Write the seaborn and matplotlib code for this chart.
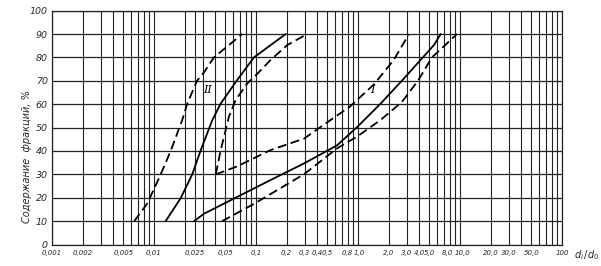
import numpy as np
import pandas as pd
import matplotlib
matplotlib.use("Agg")
import matplotlib.pyplot as plt
import matplotlib.transforms as mtransforms
from matplotlib.ticker import FixedLocator, FixedFormatter, NullFormatter
from matplotlib import font_manager
import seaborn as sns

# ---- data ----
# Group II
II_left_x = [0.0064, 0.0086, 0.0116, 0.0146, 0.0189, 0.0211, 0.0264, 0.0309, 0.0387, 0.0734]
II_left_y = [10, 17.6, 29.9, 40.1, 53.2, 60, 70, 73.6, 80, 90]
II_mid_x = [0.0130, 0.0183, 0.0237, 0.0287, 0.0373, 0.0451, 0.0656, 0.0955, 0.1955]
II_mid_y = [10, 19.9, 30, 40.3, 53.2, 60.3, 70.4, 80, 90]
II_right_x = [0.0403, 0.0451, 0.0543, 0.0632, 0.0822, 0.103, 0.139, 0.203, 0.318]
II_right_y = [30, 40.4, 54.7, 61.8, 68.9, 73, 78.9, 85.3, 90]
# Group I
I_upper_x = [0.0403, 0.0651, 0.139, 0.296, 0.431, 0.835, 1.435, 2.25, 3.16]
I_upper_y = [30, 33.4, 40.4, 45.3, 50.3, 59, 68.5, 79, 90]
I_mid_x = [0.0247, 0.0309, 0.0656, 0.139, 0.296, 0.627, 0.984, 1.67, 2.82, 5.56, 6.47]
I_mid_y = [10, 13.2, 20.4, 27.6, 34.7, 42.5, 50.3, 60.3, 71, 85.3, 90]
I_lower_x = [0.0464, 0.0955, 0.296, 0.627, 0.984, 1.67, 2.70, 3.87, 5.31, 9.35]
I_lower_y = [10, 17.4, 30.1, 41.2, 46.2, 53.3, 61, 70, 80, 90]

x_ticks = [0.001, 0.002, 0.005, 0.01, 0.025, 0.05, 0.1, 0.2, 0.3, 0.4, 0.5, 0.8,
           1, 2, 3, 4, 5, 8, 10, 20, 30, 50, 100]
x_tick_labels = ["0,001", "0,002", "0,005", "0,01", "0,025", "0,05", "0,1", "0,2",
                 "0,3", "0,4", "0,5", "0,8", "1,0", "2,0", "3,0", "4,0", "5,0",
                 "8,0", "10,0", "20,0", "30,0", "50,0", "100"]
y_ticks = [0, 10, 20, 30, 40, 50, 60, 70, 80, 90, 100]

sns.set_theme(style="white")
names = {f.name for f in font_manager.fontManager.ttflist}
narrow = "Liberation Sans Narrow" if "Liberation Sans Narrow" in names else "DejaVu Sans"
plt.rcParams['font.family'] = [narrow, 'DejaVu Sans']

fig = plt.figure(figsize=(6.01, 2.66), dpi=100)
ax = fig.add_axes([52/601, 1-244.6/266, (562-52)/601, (244.6-10.6)/266])

solid = dict(lw=1.3)
dashed = dict(lw=1.3, dashes=(5, 2.5))

for xs, ys, st in [(II_left_x, II_left_y, dashed), (II_mid_x, II_mid_y, solid),
                   (II_right_x, II_right_y, dashed), (I_upper_x, I_upper_y, dashed),
                   (I_mid_x, I_mid_y, solid), (I_lower_x, I_lower_y, dashed)]:
    df = pd.DataFrame({"x": xs, "y": ys})
    sns.lineplot(data=df, x="x", y="y", ax=ax, sort=False, estimator=None,
                 color="black", lw=st["lw"])
    if "dashes" in st:
        ax.lines[-1].set_dashes(st["dashes"])

ax.set_xscale("log")
ax.set_xlim(0.001, 100)
ax.set_ylim(0, 100)

grid_vals = []
for d in [0.001, 0.01, 0.1, 1, 10]:
    for m in range(1, 10):
        grid_vals.append(d * m)
grid_vals += [0.025, 100]
ax.xaxis.set_minor_locator(FixedLocator(grid_vals))
ax.xaxis.set_minor_formatter(NullFormatter())
ax.xaxis.set_major_locator(FixedLocator(x_ticks))
ax.xaxis.set_major_formatter(FixedFormatter(x_tick_labels))
ax.yaxis.set_major_locator(FixedLocator(y_ticks))
ax.grid(True, which="both", axis="x", color="#222222", lw=0.8)
ax.grid(True, which="major", axis="y", color="#222222", lw=0.9)
ax.tick_params(axis="x", which="both", length=0, pad=4)
ax.tick_params(axis="y", which="both", length=0, pad=3)
nudges = {"8,0": -2.5, "10,0": 2.5, "0,8": -1, "1,0": 1}
for lab in ax.get_xticklabels():
    lab.set_fontsize(5.0)
    lab.set_fontstyle("italic")
    dx = nudges.get(lab.get_text(), 0)
    if dx:
        lab.set_transform(lab.get_transform() +
                          mtransforms.ScaledTranslation(dx/100, 0, fig.dpi_scale_trans))
for lab in ax.get_yticklabels():
    lab.set_fontsize(6.8)
    lab.set_fontstyle("italic")
for sp in ax.spines.values():
    sp.set_color("#222222")
    sp.set_linewidth(0.9)
ax.set_xlabel("")
ax.set_ylabel("")

ax.text(0.0333, 66, "II", fontsize=8, fontstyle="italic", family="DejaVu Serif",
        ha="center", va="center", color="black")
ax.text(1.38, 66, "I", fontsize=8, fontstyle="italic", family="DejaVu Serif",
        ha="center", va="center", color="black")

fig.text(587/601, 1-255/266, r"$d_i\,/d_0$", fontsize=7, ha="center", va="center")
fig.text(27/601, 1-157/266, "Содержание  фракций, %", rotation=90, fontsize=7,
         fontstyle="italic", ha="center", va="center")

fig.savefig("out.png", dpi=100, facecolor="white")
